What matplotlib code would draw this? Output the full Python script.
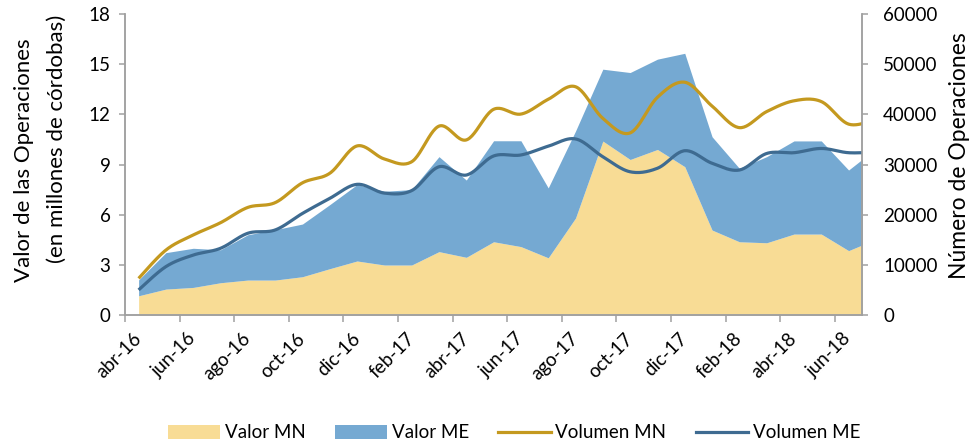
#!/usr/bin/env python3
"""Valor y número de operaciones en MN y ME, abr-16 a jul-18.

Two stacked areas (valor, left axis, millones de córdobas) and two smoothed
lines (volumen, right axis, número de operaciones), Excel look.
"""
import matplotlib

matplotlib.use("Agg")
import matplotlib.pyplot as plt
import numpy as np
from matplotlib.lines import Line2D
from matplotlib.patches import Patch


MONTHS = [
    "abr-16", "may-16", "jun-16", "jul-16", "ago-16", "sep-16", "oct-16",
    "nov-16", "dic-16", "ene-17", "feb-17", "mar-17", "abr-17", "may-17",
    "jun-17", "jul-17", "ago-17", "sep-17", "oct-17", "nov-17", "dic-17",
    "ene-18", "feb-18", "mar-18", "abr-18", "may-18", "jun-18", "jul-18",
]

# millones de córdobas
VALOR_MN = [1.15, 1.55, 1.65, 1.93, 2.09, 2.09, 2.29, 2.77, 3.23, 2.99,
            2.99, 3.79, 3.45, 4.38, 4.09, 3.42, 5.80, 10.40, 9.30, 9.90,
            8.87, 5.08, 4.38, 4.32, 4.84, 4.84, 3.85, 4.53]
VALOR_ME = [0.95, 2.18, 2.34, 1.97, 2.71, 3.01, 3.15, 3.83, 4.57, 4.41,
            4.51, 5.68, 4.62, 6.04, 6.33, 4.18, 5.20, 4.30, 5.20, 5.40,
            6.78, 5.58, 4.39, 5.15, 5.57, 5.57, 4.82, 5.42]

# número de operaciones
VOLUMEN_MN = [7300, 12950, 15950, 18400, 21450, 22400, 26350, 28250, 33700,
              31100, 30550, 37650, 34900, 41000, 40050, 43000, 45500, 39200,
              36300, 43400, 46400, 41650, 37350, 40550, 42700, 42550, 38050,
              39000]
VOLUMEN_ME = [5000, 9650, 11950, 13300, 16300, 16950, 20250, 23250, 26050,
              24300, 24800, 29550, 27900, 31700, 31900, 33650, 35100, 31550,
              28550, 29250, 32750, 30250, 28900, 32200, 32350, 33200, 32350,
              32500]

YELLOW = "#F8DC95"
BLUE_AREA = "#75A9D2"
GOLD = "#C4991F"
NAVY = "#3E6B91"
AXIS_GRAY = "#A0A0A0"
FONT = "Lato"
TICK_SIZE = 13.5


def smooth(y, steps=24):
    """Excel-style smoothed line: Bezier through every point (Catmull-Rom)."""
    pts = np.column_stack([np.arange(len(y)), y]).astype(float)
    padded = np.vstack([pts[0], pts, pts[-1]])
    t = np.linspace(0, 1, steps, endpoint=False)[:, None]
    segs = []
    for i in range(len(pts) - 1):
        p0, p1, p2, p3 = padded[i:i + 4]
        c1 = p1 + (p2 - p0) / 6
        c2 = p2 - (p3 - p1) / 6
        segs.append((1 - t) ** 3 * p1 + 3 * (1 - t) ** 2 * t * c1
                    + 3 * (1 - t) * t ** 2 * c2 + t ** 3 * p2)
    segs.append(pts[-1:])
    curve = np.vstack(segs)
    return curve[:, 0], curve[:, 1]


def main() -> None:
    plt.rcParams["font.family"] = [FONT, "DejaVu Sans"]

    fig = plt.figure(figsize=(9.71, 4.46), dpi=100)
    ax = fig.add_axes([0.1287, 0.2937, 0.7593, 0.6749])
    ax2 = ax.twinx()

    x = np.arange(len(MONTHS))
    mn = np.array(VALOR_MN)
    me = np.array(VALOR_ME)
    ax.fill_between(x, 0, mn, color=YELLOW, linewidth=0)
    ax.fill_between(x, mn, mn + me, color=BLUE_AREA, linewidth=0)

    lx, ly = smooth(VOLUMEN_MN)
    ax2.plot(lx, ly, color=GOLD, linewidth=2.3, solid_capstyle="butt")
    lx, ly = smooth(VOLUMEN_ME)
    ax2.plot(lx, ly, color=NAVY, linewidth=2.3, solid_capstyle="butt")

    ax.set_xlim(-0.5, 26.5)
    ax.set_ylim(0, 18)
    ax.set_yticks(np.arange(0, 19, 3))
    ax2.set_ylim(0, 60000)
    ax2.set_yticks(np.arange(0, 60001, 10000))

    ax.set_xticks(x[::2])
    ax.set_xticklabels(MONTHS[::2], rotation=45, ha="right", va="center",
                       rotation_mode="anchor", fontsize=TICK_SIZE)
    ax.set_xticks(np.arange(-0.5, 26, 2), minor=True)
    ax.tick_params(axis="x", which="major", length=0, pad=15)
    ax.tick_params(axis="x", which="minor", length=5, width=1.1,
                   color=AXIS_GRAY)
    ax.tick_params(axis="y", length=4.5, width=1.1, color=AXIS_GRAY,
                   labelsize=TICK_SIZE, pad=6)
    ax2.tick_params(axis="y", length=4.5, width=1.1, color=AXIS_GRAY,
                    labelsize=TICK_SIZE, pad=10.5)

    for a in (ax, ax2):
        a.spines["top"].set_visible(False)
        for side in ("left", "right", "bottom"):
            a.spines[side].set_color(AXIS_GRAY)
            a.spines[side].set_linewidth(1.1)

    fig.text(24 / 971, 1 - 160 / 446, "Valor de las Operaciones",
             rotation=90, ha="center", va="center", fontsize=16)
    fig.text(57 / 971, 1 - 139 / 446, "(en millones de córdobas)",
             rotation=90, ha="center", va="center", fontsize=16)
    fig.text(959 / 971, 1 - 156 / 446, "Número de Operaciones",
             rotation=90, ha="center", va="center", fontsize=16.5)

    handles = [
        Patch(facecolor=YELLOW, label="Valor MN"),
        Patch(facecolor=BLUE_AREA, label="Valor ME"),
        Line2D([], [], color=GOLD, linewidth=2.3, label="Volumen MN"),
        Line2D([], [], color=NAVY, linewidth=2.3, label="Volumen ME"),
    ]
    fig.legend(handles=handles, loc="center", ncol=4,
               bbox_to_anchor=(514 / 971, 1 - 433 / 446), frameon=False,
               fontsize=TICK_SIZE, handlelength=2.8, handleheight=0.7,
               handletextpad=0.25, columnspacing=1.55)

    fig.savefig("out.png", dpi=100)


if __name__ == "__main__":
    main()
